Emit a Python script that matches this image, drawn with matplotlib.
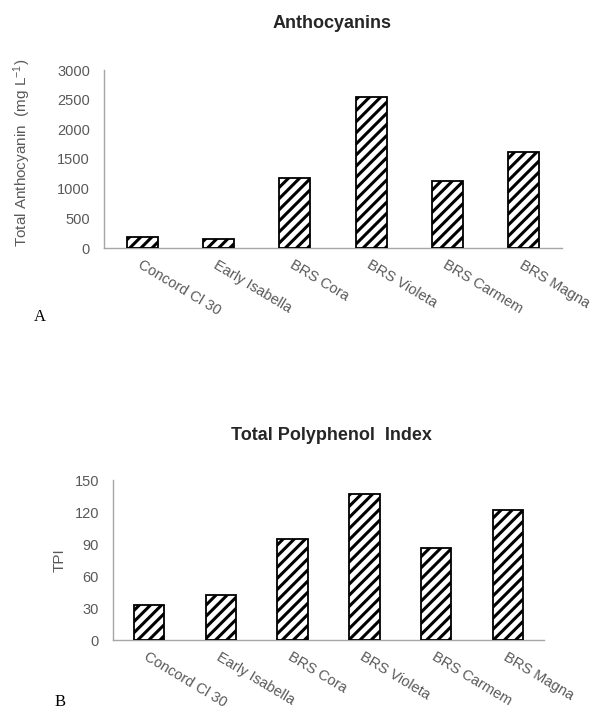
import matplotlib
matplotlib.use("Agg")
import matplotlib.pyplot as plt

plt.rcParams['font.family'] = ['Liberation Sans', 'DejaVu Sans']
plt.rcParams['mathtext.default'] = 'regular'
plt.rcParams['hatch.linewidth'] = 2.2
plt.rcParams['hatch.color'] = 'black'

cultivars = ["Concord Cl 30", "Early Isabella", "BRS Cora", "BRS Violeta", "BRS Carmem", "BRS Magna"]
anthocyanin = [180, 160, 1180, 2540, 1135, 1610]
tpi = [33, 42, 95, 137, 86, 121.5]
anth_ticks = [0, 500, 1000, 1500, 2000, 2500, 3000]
tpi_ticks = [0, 30, 60, 90, 120, 150]

W, H = 599, 711
fig = plt.figure(figsize=(W / 100, H / 100), dpi=100)

tick_col = '#595959'
spine_col = '#a6a6a6'
title_col = '#262626'


def style(ax, ticks):
    ax.set_xlim(-0.5, len(cultivars) - 0.5)
    ax.set_ylim(ticks[0], ticks[-1])
    ax.set_yticks(ticks)
    ax.set_yticklabels([str(t) for t in ticks], fontsize=10.5, color=tick_col)
    ax.set_xticks(range(len(cultivars)))
    ax.set_xticklabels(cultivars, rotation=-31, ha='left', rotation_mode='anchor',
                       fontsize=10.5, color=tick_col)
    ax.tick_params(axis='both', length=0)
    ax.tick_params(axis='x', pad=7)
    ax.tick_params(axis='y', pad=10)
    for s in ['top', 'right']:
        ax.spines[s].set_visible(False)
    for s in ['left', 'bottom']:
        ax.spines[s].set_color(spine_col)
        ax.spines[s].set_linewidth(1.0)


# Panel A
ax1 = fig.add_axes([104 / W, 1 - 248 / H, 458 / W, 178 / H])
ax1.bar(range(len(cultivars)), anthocyanin, width=0.41, color='white',
        edgecolor='black', linewidth=1.3, hatch='///', zorder=3)
style(ax1, anth_ticks)
fig.text(22 / W, 1 - 153 / H, 'Total Anthocyanin  (mg L$^{-1}$)', rotation=90,
         ha='center', va='center', fontsize=11, color=tick_col)
fig.text(332 / W, 1 - 23 / H, 'Anthocyanins', ha='center', va='center',
         fontsize=13, fontweight='bold', color=title_col)
fig.text(40 / W, 1 - 317 / H, 'A', ha='center', va='center', fontsize=12,
         family='Liberation Serif', color='black')

# Panel B
ax2 = fig.add_axes([113 / W, 1 - 640 / H, 431 / W, 160 / H])
ax2.bar(range(len(cultivars)), tpi, width=0.42, color='white',
        edgecolor='black', linewidth=1.3, hatch='///', zorder=3)
style(ax2, tpi_ticks)
fig.text(60 / W, 1 - 560 / H, 'TPI', rotation=90, ha='center', va='center',
         fontsize=11, color=tick_col)
fig.text(331 / W, 1 - 435 / H, 'Total Polyphenol  Index', ha='center', va='center',
         fontsize=13, fontweight='bold', color=title_col)
fig.text(60 / W, 1 - 702 / H, 'B', ha='center', va='center', fontsize=12,
         family='Liberation Serif', color='black')

fig.savefig('out.png', dpi=100, facecolor='white')
